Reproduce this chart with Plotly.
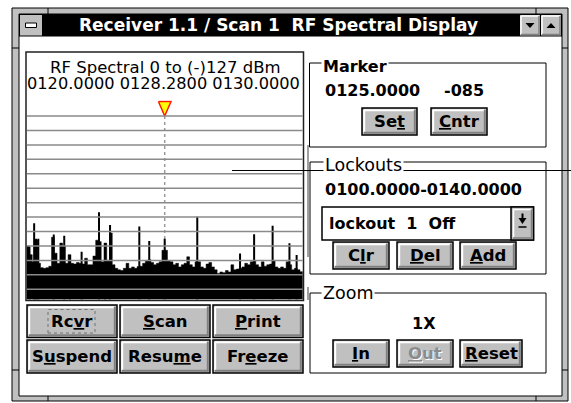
import plotly.graph_objects as go

W, H = 571, 403

# ---------------- data ----------------
freq_start = 120.0
freq_stop = 130.0
bin_width = 0.1
db_top = 0
db_bottom = -127
floor_dbm = [
    -90, -96, -101, -86, -102, -105, -105.5, -105, -104, -84,
    -95, -102, -88, -90, -102, -96, -102, -102.5, -101.5, -102,
    -102.5, -98.5, -103, -103, -97, -86, -87, -101, -88, -100,
    -81, -103, -105.5, -106.5, -107, -105.5, -102, -105.5, -104.5, -105.5,
    -104.3, -104, -102, -100, -99.5, -101.5, -103, -102, -101, -93,
    -93, -100, -101, -103, -102, -104.5, -103, -102, -97.5, -103,
    -104.5, -101, -101, -104.5, -105.5, -102.5, -101.5, -104.5, -106.5, -109,
    -108, -108.5, -107, -108, -103, -106.5, -106, -105.5, -104.5, -102,
    -103, -101, -100, -103, -104.5, -101, -104, -103, -102.5, -100,
    -104.5, -105.5, -104.5, -105.5, -101, -103, -106.5, -105.5, -106.5, -107.8,
]
spike_freqs = [120.10, 120.27, 120.34, 120.42, 120.98, 121.36, 121.57, 121.99,
               122.62, 122.84, 123.02, 124.08, 124.44, 125.00, 126.18, 127.73,
               128.24, 128.91, 129.52, 129.78]
spike_dbm = [-90.5, -74.3, -85, -85, -82, -83, -96.3, -94,
             -66.7, -88, -75.5, -76.6, -86.5, -85, -69.7, -95.2,
             -81.8, -76, -88.2, -96.3]
db_grid = list(range(0, -130, -10))
header_title = "RF Spectral 0 to (-)127 dBm"
header_freqs = ["0120.0000", "0128.2800", "0130.0000"]
marker_freq = 125.0
marker_text = "0125.0000"
marker_level_text = "-085"
lockout_range = "0100.0000-0140.0000"
lockout_item = "lockout\u00a0\u00a01\u00a0\u00a0Off"
zoom_text = "1X"
window_title = "Receiver 1.1 / Scan 1\u00a0\u00a0RF Spectral Display"

# ---------------- geometry (pixels) ----------------
PX0, PX1 = 26.7, 302.7       # plot left/right
PY_BOT = 299.4               # pixel of -127 dBm
PX_PER_DB = 14.44 / 10
Y_TOP_DB = 11
PY_TOP = PY_BOT - (Y_TOP_DB - db_bottom) * PX_PER_DB
PX_PER_MHZ = (PX1 - PX0) / (freq_stop - freq_start)

FONT = "DejaVu Sans"

def X(x):
    return x / W

def Y(y):
    return 1 - y / H

shapes = []
annotations = []

def rect(x0, y0, x1, y1, fill=None, line=None, lw=1, dash=None, layer="below"):
    shapes.append(dict(type="rect", xref="paper", yref="paper",
                       x0=X(x0), x1=X(x1), y0=Y(y1), y1=Y(y0),
                       fillcolor=fill if fill else "rgba(0,0,0,0)",
                       line=dict(color=line if line else "rgba(0,0,0,0)",
                                 width=lw if line else 0, dash=dash),
                       layer=layer))

def seg(x0, y0, x1, y1, color="black", lw=1, dash=None, layer="below"):
    shapes.append(dict(type="line", xref="paper", yref="paper",
                       x0=X(x0), x1=X(x1), y0=Y(y0), y1=Y(y1),
                       line=dict(color=color, width=lw, dash=dash), layer=layer))

def poly(pts, fill="black", layer="below"):
    d = "M" + " L".join(f"{X(a):.5f},{Y(b):.5f}" for a, b in pts) + " Z"
    shapes.append(dict(type="path", xref="paper", yref="paper", path=d,
                       fillcolor=fill, line=dict(width=0), layer=layer))

def text(x, y, s, size=16, bold=False, color="black", xanchor="center", bg=None):
    a = dict(x=X(x), y=Y(y), xref="paper", yref="paper", text=(f"<b>{s}</b>" if bold else s),
             showarrow=False, xanchor=xanchor, yanchor="middle",
             font=dict(family=FONT, size=size, color=color))
    if bg:
        a.update(bgcolor=bg, borderpad=1)
    annotations.append(a)

def button(x0, y0, x1, y1, label, disabled=False):
    rect(x0, y0, x1, y1, fill="#c0c0c0", line="black", lw=1.5)
    seg(x0 + 2, y0 + 2.2, x1 - 3, y0 + 2.2, "white", 2)
    seg(x0 + 2.2, y0 + 2, x0 + 2.2, y1 - 3, "white", 2)
    seg(x0 + 2, y1 - 2.2, x1 - 1.5, y1 - 2.2, "#808080", 2)
    seg(x1 - 2.2, y0 + 2, x1 - 2.2, y1 - 1.5, "#808080", 2)
    cx, cy = (x0 + x1) / 2, (y0 + y1) / 2
    if disabled:
        text(cx + 1, cy + 1, label, 16.5, True, "white")
        text(cx, cy, label, 16.5, True, "#8c8c8c")
    else:
        text(cx, cy, label, 16.5, True, "black")

# ---------------- window chrome ----------------
rect(12, 8, 568, 401, fill="#c0c0c0", line="black", lw=1)
rect(19, 14, 562, 396, fill="white", line="black", lw=1)
for xm in (48, 536):
    seg(xm, 8, xm, 14, "black", 1)
    seg(xm, 396, xm, 401, "black", 1)
for ym in (48, 370):
    seg(12, ym, 19, ym, "black", 1)
    seg(562, ym, 568, ym, "black", 1)
rect(19, 14, 562, 36.5, fill="black")
# control box
rect(20, 15, 42, 35.5, fill="#c0c0c0")
rect(25.5, 23, 36.5, 27.5, fill="white", line="black", lw=1)
# min/max boxes
for bx0, bx1, up in ((520, 540, False), (541, 561, True)):
    rect(bx0, 15, bx1, 35.5, fill="#c0c0c0")
    seg(bx0 + 1, 16, bx1 - 1, 16, "white", 1.5)
    seg(bx0 + 1, 16, bx0 + 1, 34.5, "white", 1.5)
    seg(bx0 + 1, 34.5, bx1 - 0.5, 34.5, "#808080", 1.5)
    seg(bx1 - 1, 16, bx1 - 1, 34.5, "#808080", 1.5)
    cx = (bx0 + bx1) / 2
    if up:
        poly([(cx - 4.5, 28), (cx + 4.5, 28), (cx, 23)])
    else:
        poly([(cx - 4.5, 23), (cx + 4.5, 23), (cx, 28)])
text(278, 25.5, window_title, 17, True, "white")

# ---------------- spectral panel ----------------
rect(26, 52, 303.5, 300.5, fill="white", line="#202020", lw=1.5)
seg(308, 145, 308, 257, "#404040", 1)
seg(308, 287, 308, 300, "#404040", 1)
text(165.5, 67.5, header_title, 16.5)
text(163, 84, " ".join(header_freqs), 16.2)

# stray line across the window
seg(232, 170.5, 571, 170.5, "black", 1, layer="above")

# ---------------- Marker group ----------------
rect(309.5, 63, 546, 147, line="black", lw=1)
text(355, 66.5, "Marker", 16, True, bg="white")
text(372.5, 90, marker_text, 16, True)
text(464, 90, marker_level_text, 16, True)
button(362, 108, 417, 135, "Se<u>t</u>")
button(431, 108, 487, 135, "<u>C</u>ntr")

# ---------------- Lockouts group ----------------
rect(310, 162, 546, 274, line="black", lw=1)
text(363, 164.5, "Lockouts", 17.5, False, bg="white")
text(423, 189.5, lockout_range, 16, True)
rect(322, 207, 533.5, 240, fill="white", line="black", lw=1.5)
rect(511, 207, 533.5, 240, fill="#c0c0c0", line="black", lw=1.5)
seg(513, 209.5, 531, 209.5, "white", 1.5)
seg(513.5, 209.5, 513.5, 237.5, "white", 1.5)
seg(513, 238, 532, 238, "#808080", 1.5)
seg(531.5, 209.5, 531.5, 238, "#808080", 1.5)
poly([(518.5, 218), (526.5, 218), (522.5, 224)])
seg(522.5, 213.5, 522.5, 218.5, "black", 2)
seg(518.5, 227, 526.5, 227, "black", 1.5)
text(327, 223, lockout_item, 16, True, xanchor="left")
button(333, 242, 389, 269, "C<u>l</u>r")
button(397, 242, 453, 269, "<u>D</u>el")
button(460, 242, 516, 269, "<u>A</u>dd")

# ---------------- Zoom group ----------------
rect(310, 293, 546, 373, line="black", lw=1)
text(348, 293, "Zoom", 17.5, False, bg="white")
text(424, 323, zoom_text, 16, True)
button(333, 340, 389, 367, "<u>I</u>n")
button(397, 340, 453, 367, "<u>O</u>ut", disabled=True)
button(460, 340, 522, 367, "<u>R</u>eset")

# ---------------- bottom-left buttons ----------------
cols = [(27, 117), (120, 210), (213, 303)]
rows = [(305, 337.5), (340, 373)]
labels = [["Rc<u>v</u>r", "<u>S</u>can", "<u>P</u>rint"],
          ["S<u>u</u>spend", "Resu<u>m</u>e", "Fr<u>e</u>eze"]]
for r, (y0, y1) in enumerate(rows):
    for c, (x0, x1) in enumerate(cols):
        button(x0, y0, x1, y1, labels[r][c])
rect(48, 309.5, 95, 333, line="#707070", lw=1, dash="dot")

# ---------------- plot-level shapes ----------------
for v in db_grid:
    shapes.append(dict(type="line", xref="x", yref="y", x0=freq_start, x1=freq_stop,
                       y0=v, y1=v, line=dict(color="#8a8a8a", width=1.5), layer="above"))
shapes.append(dict(type="line", xref="x", yref="y", x0=marker_freq, x1=marker_freq,
                   y0=db_top, y1=db_bottom,
                   line=dict(color="#9a9a9a", width=1.5, dash="3px,3px"), layer="below"))

# ---------------- traces ----------------
edges = [freq_start + i * bin_width for i in range(len(floor_dbm) + 1)]
fx = [freq_start] + edges + [freq_stop]
fy = [db_bottom] + floor_dbm + [floor_dbm[-1], db_bottom]

sx, sy = [], []
for f, d in zip(spike_freqs, spike_dbm):
    sx += [f, f, None]
    sy += [db_bottom, d, None]

tri_hw = 6.3 / PX_PER_MHZ
tri_h = 14.5 / PX_PER_DB
tx = [marker_freq - tri_hw, marker_freq + tri_hw, marker_freq, marker_freq - tri_hw]
ty = [db_top + tri_h, db_top + tri_h, db_top, db_top + tri_h]

fig = go.Figure()
fig.add_trace(go.Scatter(x=fx, y=fy, mode="lines", line=dict(color="black", width=0.5, shape="hv"),
                         fill="toself", fillcolor="black", hoverinfo="skip"))
fig.add_trace(go.Scatter(x=sx, y=sy, mode="lines", line=dict(color="black", width=2),
                         hoverinfo="skip"))
fig.add_trace(go.Scatter(x=tx, y=ty, mode="lines", line=dict(color="#ff1a00", width=1.5),
                         fill="toself", fillcolor="#ffff00", hoverinfo="skip"))

fig.update_layout(
    width=W, height=H, autosize=False,
    margin=dict(l=0, r=0, t=0, b=0),
    paper_bgcolor="white", plot_bgcolor="white",
    showlegend=False,
    xaxis=dict(range=[freq_start, freq_stop], domain=[X(PX0), X(PX1)], visible=False,
               fixedrange=True),
    yaxis=dict(range=[db_bottom, Y_TOP_DB], domain=[Y(PY_BOT), Y(PY_TOP)], visible=False,
               fixedrange=True),
    shapes=shapes,
    annotations=annotations,
)

fig.write_html("out.html", config={"displayModeBar": False},
               post_script="document.body.style.margin='0';document.body.style.overflow='hidden';")
